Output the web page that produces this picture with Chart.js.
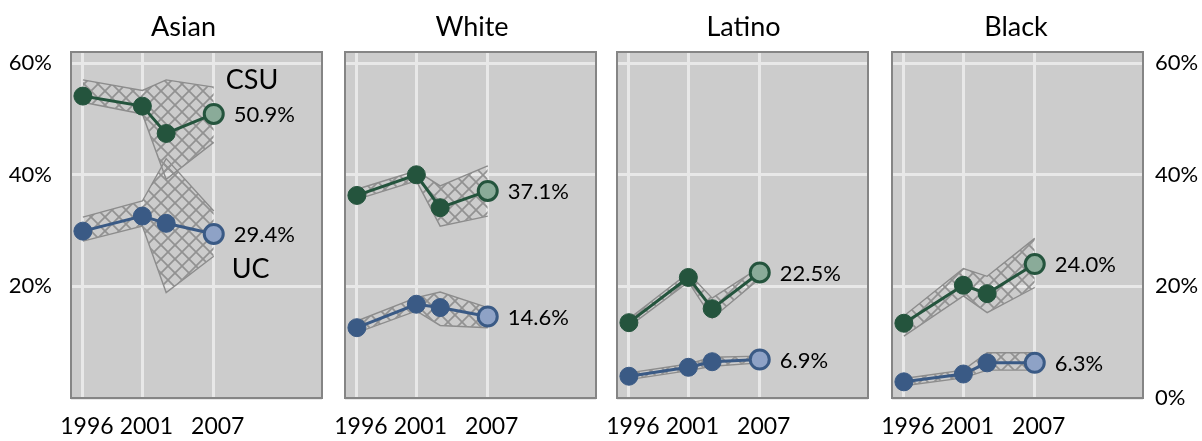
<!DOCTYPE html>
<html><head><meta charset="utf-8">
<script src="https://cdn.jsdelivr.net/npm/chart.js@4"></script>
<style>
html,body{margin:0;padding:0;background:#fff;}
#wrap{position:relative;width:1202px;height:441px;overflow:hidden;}
canvas{position:absolute;left:0;top:0;}
</style>
</head><body>
<div id="wrap">
<canvas id="c0" width="1202" height="441"></canvas>
<canvas id="c1" width="1202" height="441"></canvas>
<canvas id="c2" width="1202" height="441"></canvas>
<canvas id="c3" width="1202" height="441"></canvas>
</div>
<script>
// ---------- data ----------
const years = [1996, 2001, 2003, 2007];
const yearTicks = [1996, 2001, 2007];
const pctTicks = [0, 20, 40, 60];
const groups = ['Asian', 'White', 'Latino', 'Black'];

const csuAsian   = [54.1, 52.3, 47.4, 50.9];
const csuAsianHi = [57.0, 55.1, 57.0, 55.7];
const csuAsianLo = [53.0, 50.9, 39.2, 45.8];
const ucAsian    = [29.9, 32.6, 31.3, 29.4];
const ucAsianHi  = [32.4, 35.3, 42.9, 33.5];
const ucAsianLo  = [28.1, 30.8, 18.9, 25.4];

const csuWhite   = [36.3, 40.0, 34.1, 37.1];
const csuWhiteHi = [37.4, 40.7, 38.0, 41.6];
const csuWhiteLo = [35.6, 38.9, 30.8, 32.6];
const ucWhite    = [12.6, 16.8, 16.2, 14.6];
const ucWhiteHi  = [13.8, 18.0, 19.0, 16.2];
const ucWhiteLo  = [11.7, 15.6, 13.0, 12.6];

const csuLatino   = [13.5, 21.6, 16.0, 22.5];
const csuLatinoHi = [14.2, 22.4, 17.9, 23.4];
const csuLatinoLo = [12.8, 20.8, 14.3, 21.4];
const ucLatino    = [3.9, 5.5, 6.5, 6.9];
const ucLatinoHi  = [4.5, 6.1, 7.3, 7.5];
const ucLatinoLo  = [3.3, 4.9, 5.7, 6.3];

const csuBlack   = [13.4, 20.2, 18.7, 24.0];
const csuBlackHi = [14.7, 23.2, 21.8, 28.6];
const csuBlackLo = [11.1, 18.3, 15.3, 19.8];
const ucBlack    = [2.9, 4.3, 6.3, 6.3];
const ucBlackHi  = [3.5, 5.0, 8.1, 8.1];
const ucBlackLo  = [2.2, 3.6, 5.0, 5.0];

const csuVals = [csuAsian, csuWhite, csuLatino, csuBlack];
const csuHis  = [csuAsianHi, csuWhiteHi, csuLatinoHi, csuBlackHi];
const csuLos  = [csuAsianLo, csuWhiteLo, csuLatinoLo, csuBlackLo];
const ucVals  = [ucAsian, ucWhite, ucLatino, ucBlack];
const ucHis   = [ucAsianHi, ucWhiteHi, ucLatinoHi, ucBlackHi];
const ucLos   = [ucAsianLo, ucWhiteLo, ucLatinoLo, ucBlackLo];

// ---------- layout / style ----------
const W = 1202, H = 441;
const plotLeft = [71, 345, 617, 892];
const plotW = 251;
const plotTop = 52, xAxisH = 43;
const titleX = [183.5, 472, 743.5, 1016];
const CSU_DARK = '#24543d', CSU_LIGHT = '#8aab99';
const UC_DARK = '#3a5a85', UC_LIGHT = '#8ea2c6';
const FONT = 'Lato, "Open Sans", sans-serif';
Chart.defaults.font.family = FONT;
Chart.defaults.color = '#000';

// crosshatch pattern
const tile = document.createElement('canvas');
tile.width = 14; tile.height = 14;
const tctx = tile.getContext('2d');
tctx.strokeStyle = '#929292';
tctx.lineWidth = 1.7;
for (const o of [-14, 0, 14]) {
  tctx.beginPath(); tctx.moveTo(o - 1, -1); tctx.lineTo(o + 15, 15); tctx.stroke();
  tctx.beginPath(); tctx.moveTo(o + 15, -1); tctx.lineTo(o - 1, 15); tctx.stroke();
}
const hatch = document.getElementById('c0').getContext('2d').createPattern(tile, 'repeat');

function pts(vals) { return years.map((x, i) => ({x: x, y: vals[i]})); }

function lineDs(label, vals, dark, light) {
  const n = vals.length;
  return {
    label: label, data: pts(vals), order: 0, fill: false,
    borderColor: dark, borderWidth: 3, tension: 0,
    pointRadius: vals.map((v, i) => i === n - 1 ? 9.5 : 9),
    pointBackgroundColor: vals.map((v, i) => i === n - 1 ? light : dark),
    pointBorderColor: dark,
    pointBorderWidth: vals.map((v, i) => i === n - 1 ? 3 : 1)
  };
}
function bandDs(vals, fill) {
  return {
    data: pts(vals), order: 5, fill: fill, backgroundColor: hatch,
    borderColor: '#8c8c8c', borderWidth: 1.4, pointRadius: 0, tension: 0
  };
}

groups.forEach((g, k) => {
  const left = plotLeft[k], right = left + plotW;
  const isFirst = k === 0, isLast = k === groups.length - 1;
  const yW = isFirst ? left : (isLast ? W - right : 0);

  const panelPlugin = {
    id: 'panel' + k,
    beforeDraw(chart) {
      const a = chart.chartArea, c = chart.ctx;
      c.save(); c.fillStyle = '#cccccc';
      c.fillRect(a.left, a.top, a.right - a.left, a.bottom - a.top);
      c.restore();
    },
    afterDatasetsDraw(chart) {
      const c = chart.ctx, xs = chart.scales.x, ys = chart.scales.y;
      const last = years.length - 1;
      const px = xs.getPixelForValue(years[last]);
      const pyC = ys.getPixelForValue(csuVals[k][last]);
      const pyU = ys.getPixelForValue(ucVals[k][last]);
      c.save();
      c.fillStyle = '#000';
      c.font = '22px ' + FONT;
      c.textAlign = 'left'; c.textBaseline = 'middle';
      c.fillText(csuVals[k][last].toFixed(1) + '%', px + 20, pyC + 1);
      c.fillText(ucVals[k][last].toFixed(1) + '%', px + 20, pyU + 1);
      if (isFirst) {
        c.font = '27px ' + FONT;
        c.textBaseline = 'alphabetic';
        c.fillText('CSU', px + 12, pyC - 25);
        c.fillText('UC', px + 18, pyU + 44);
      }
      c.restore();
    },
    afterDraw(chart) {
      const a = chart.chartArea, c = chart.ctx;
      c.save();
      c.strokeStyle = '#858585'; c.lineWidth = 2;
      c.strokeRect(a.left, a.top, a.right - a.left, a.bottom - a.top);
      c.fillStyle = '#000';
      c.font = '27px ' + FONT;
      c.textAlign = 'center'; c.textBaseline = 'alphabetic';
      c.fillText(g, titleX[k], 36);
      c.restore();
    }
  };

  new Chart(document.getElementById('c' + k), {
    type: 'line',
    data: { datasets: [
      lineDs('CSU', csuVals[k], CSU_DARK, CSU_LIGHT),
      lineDs('UC', ucVals[k], UC_DARK, UC_LIGHT),
      bandDs(csuHis[k], '+1'), bandDs(csuLos[k], false),
      bandDs(ucHis[k], '+1'), bandDs(ucLos[k], false)
    ]},
    options: {
      responsive: false, animation: false, devicePixelRatio: 1,
      layout: { padding: {
        left: isFirst ? 0 : left,
        right: isLast ? 0 : W - right,
        top: plotTop, bottom: 0 } },
      plugins: { legend: {display: false}, tooltip: {enabled: false}, title: {display: false} },
      scales: {
        x: {
          type: 'linear', min: 1995, max: 2016.1,
          afterBuildTicks(s) { s.ticks = yearTicks.map(v => ({value: v})); },
          afterFit(s) { s.height = xAxisH; },
          grid: { color: '#e8e8e8', lineWidth: 3, drawTicks: false },
          border: { display: false },
          ticks: { autoSkip: false, maxRotation: 0, padding: 15, labelOffset: 4,
                   font: {size: 23}, color: '#000',
                   callback: v => String(v) }
        },
        y: {
          type: 'linear', min: 0, max: 62,
          position: isLast ? 'right' : 'left',
          afterBuildTicks(s) { s.ticks = pctTicks.map(v => ({value: v})); },
          afterFit(s) { s.width = yW; },
          grid: { color: '#e8e8e8', lineWidth: 3, drawTicks: false },
          border: { display: false },
          ticks: { display: isFirst || isLast, padding: isFirst ? 19 : 12,
                   font: {size: 22}, color: '#000',
                   callback: v => (isFirst && v === 0) ? '' : v + '%' }
        }
      }
    },
    plugins: [panelPlugin]
  });
});
</script>
</body></html>
